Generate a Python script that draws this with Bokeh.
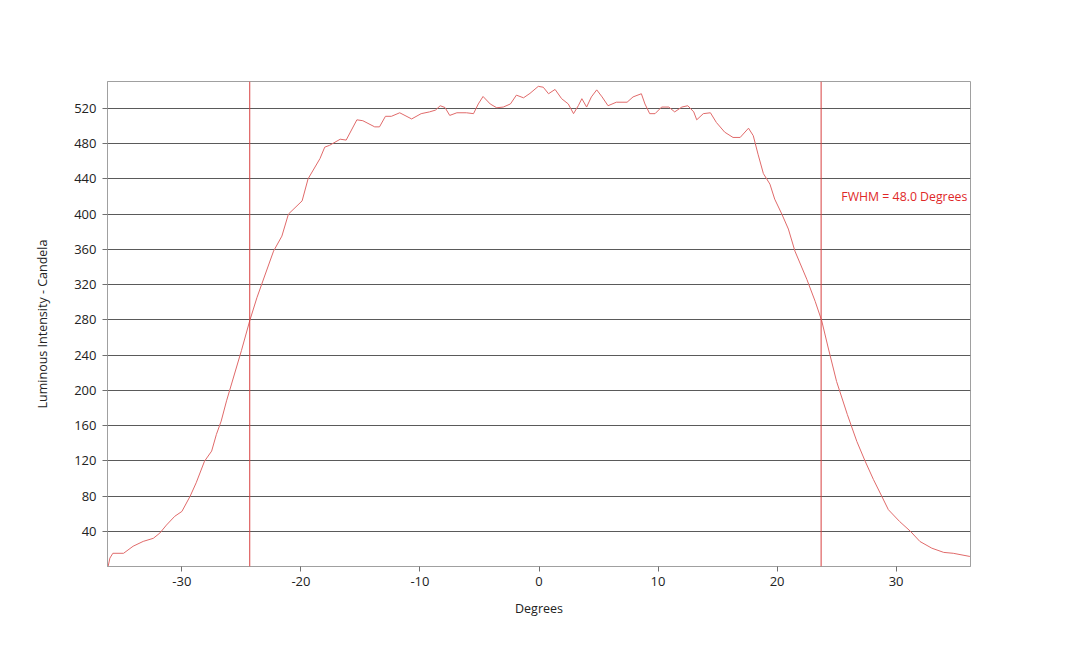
from bokeh.plotting import figure
from bokeh.models import FixedTicker, Span, Label, Range1d, PrintfTickFormatter
from bokeh.embed import file_html
from bokeh.resources import INLINE

degrees = [-36.2, -36.05, -35.8, -34.9, -34.1, -33.25, -32.4, -31.85, -31.3, -30.6,
           -30.0, -29.3, -28.8, -28.1, -27.5, -27.1, -26.7, -26.25, -25.0, -24.3,
           -23.7, -23.2, -22.3, -21.6, -21.05, -19.9, -19.4, -18.4, -18.0, -17.6,
           -16.7, -16.2, -15.3, -14.8, -13.8, -13.4, -12.9, -12.4, -11.7, -10.7,
           -9.9, -9.2, -8.7, -8.3, -7.9, -7.5, -6.9, -6.1, -5.5, -5.1,
           -4.7, -4.1, -3.55, -3.0, -2.4, -1.9, -1.3, -0.76, -0.06, 0.36,
           0.8, 1.35, 1.9, 2.46, 2.9, 3.3, 3.6, 4.0, 4.4, 4.85,
           5.3, 5.8, 6.5, 7.4, 7.9, 8.6, 8.9, 9.3, 9.75, 10.3,
           10.9, 11.4, 12.0, 12.5, 13.0, 13.25, 13.8, 14.4, 14.9, 15.6,
           16.3, 16.9, 17.6, 18.0, 18.4, 18.85, 19.4, 19.8, 20.4, 20.95,
           21.5, 22.5, 23.2, 23.75, 24.3, 25.0, 25.9, 26.7, 27.4, 28.1,
           28.8, 29.35, 30.3, 31.2, 32.0, 33.0, 34.0, 34.8, 36.2]

intensity = [0, 9.5, 15, 15, 23, 28.5, 32, 38, 47, 57,
             62.5, 80, 95, 119.5, 131, 150, 165, 188, 245, 279,
             305, 324, 358, 375, 400, 415, 440, 463, 476, 478,
             485, 484, 507, 506, 499, 499, 511, 511, 515, 508,
             514, 516, 518, 523, 521, 512, 515, 515, 514, 525,
             533.5, 525, 520.7, 521.5, 525, 535, 532, 537, 545, 544,
             536.6, 541.5, 531, 525, 514, 523, 531, 521.5, 533, 541,
             533, 523, 527, 527, 533, 536.6, 525, 514, 514, 521.5,
             521.5, 516, 521.5, 523, 516, 507, 514, 515, 504, 493,
             487, 487, 497.5, 489, 468, 446, 434, 417, 400, 383,
             358, 326, 301, 279, 248, 210, 172.6, 142, 119.5, 98.6,
             79.6, 64.5, 51, 40, 28.4, 20.8, 16, 15, 11.4]

x_ticks = [-30, -20, -10, 0, 10, 20, 30]
y_ticks = [40, 80, 120, 160, 200, 240, 280, 320, 360, 400, 440, 480, 520]
half_max_left = -24.3
half_max_right = 23.7
fwhm_text = "FWHM = 48.0 Degrees"

FONT = "Open Sans"

p = figure(width=1072, height=638, output_backend="svg", toolbar_location=None,
           x_range=Range1d(-36.25, 36.25), y_range=Range1d(0, 550.5),
           min_border_left=107, min_border_right=102, min_border_top=81, min_border_bottom=72)

p.background_fill_color = "white"
p.border_fill_color = "white"
p.outline_line_color = "#a0a0a0"
p.outline_line_width = 1

p.xgrid.visible = False
p.ygrid.ticker = FixedTicker(ticks=y_ticks)
p.ygrid.grid_line_color = "#5a5a5a"
p.ygrid.grid_line_width = 1

p.xaxis.ticker = FixedTicker(ticks=x_ticks)
p.yaxis.ticker = FixedTicker(ticks=y_ticks)
p.xaxis.formatter = PrintfTickFormatter(format="%d")
p.yaxis.formatter = PrintfTickFormatter(format="%d")
for ax in (p.xaxis, p.yaxis):
    ax.axis_line_color = "#a0a0a0"
    ax.major_tick_line_color = "#707070"
    ax.major_tick_in = 0
    ax.major_tick_out = 5
    ax.minor_tick_line_color = None
    ax.major_label_text_font = FONT
    ax.major_label_text_font_size = "13px"
    ax.major_label_text_color = "#222222"
    ax.axis_label_text_font = FONT
    ax.axis_label_text_font_size = "12.5px"
    ax.axis_label_text_font_style = "normal"
    ax.axis_label_text_color = "#222222"

p.xaxis.axis_label = "Degrees"
p.yaxis.axis_label = "Luminous Intensity - Candela"
p.xaxis.major_label_standoff = 5
p.xaxis.axis_label_standoff = 11
p.yaxis.major_label_standoff = 6
p.yaxis.axis_label_standoff = 20

p.line(degrees, intensity, line_color="#e06a6a", line_width=1)

for xv in (half_max_left, half_max_right):
    p.add_layout(Span(location=xv, dimension="height", line_color="#d84040", line_width=1))

p.add_layout(Label(x=25.4, y=420, text=fwhm_text, text_font=FONT, text_font_size="12.3px",
                   text_color="#e02828", text_baseline="middle", text_align="left"))

open("out.html", "w").write(file_html(p, INLINE))
